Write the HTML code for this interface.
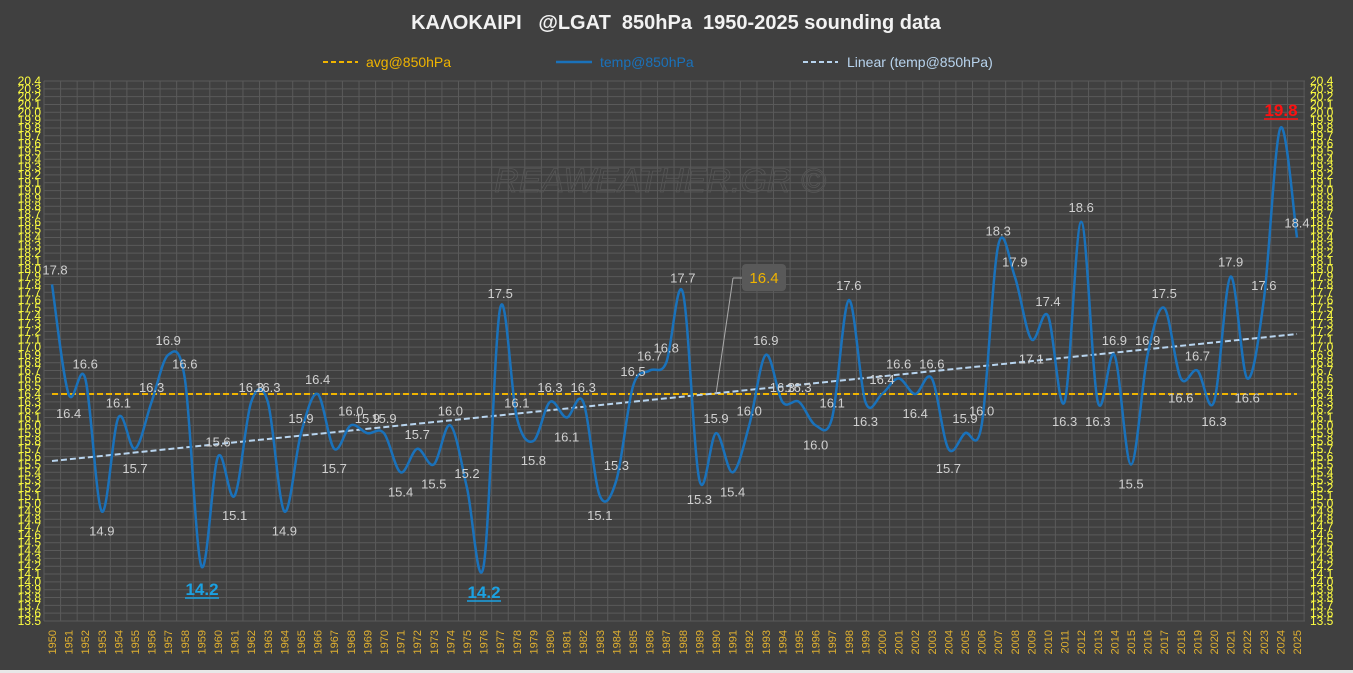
<!DOCTYPE html>
<html><head><meta charset="utf-8"><style>
html,body{margin:0;padding:0;background:#404040;}
svg{display:block;font-family:"Liberation Sans","DejaVu Sans",sans-serif;}
</style></head><body>
<svg id="s" width="1353" height="673" viewBox="0 0 1353 673" xmlns="http://www.w3.org/2000/svg">
<rect width="1353" height="673" fill="#404040"/>
<rect x="0" y="670" width="1353" height="3" fill="#e8e8e8"/>
<g id="grid" stroke="#5a5a5a" stroke-width="1"></g>
<text x="676" y="29" text-anchor="middle" fill="#f2f2f2" font-size="20" font-weight="bold" xml:space="preserve">ΚΑΛΟΚΑΙΡΙ   @LGAT  850hPa  1950-2025 sounding data</text>
<line x1="323" y1="62" x2="358" y2="62" stroke="#f0b400" stroke-width="2" stroke-dasharray="5,3"/>
<text x="366" y="67" fill="#f0b400" font-size="14">avg@850hPa</text>
<line x1="556" y1="62" x2="592" y2="62" stroke="#1a72bb" stroke-width="2.5"/>
<text x="600" y="67" fill="#1a72bb" font-size="14">temp@850hPa</text>
<line x1="803" y1="62" x2="838" y2="62" stroke="#b8d4ee" stroke-width="2" stroke-dasharray="5,3"/>
<text x="847" y="67" fill="#b8d4ee" font-size="14">Linear (temp@850hPa)</text>
<text x="660" y="192" text-anchor="middle" fill="none" stroke="#565656" stroke-width="0.8" font-size="34" font-style="italic">REAWEATHER.GR ©</text>
<line x1="52" y1="394" x2="1297" y2="394" stroke="#f0b400" stroke-width="2" stroke-dasharray="6,3"/>
<line x1="52" y1="461" x2="1297" y2="334" stroke="#b8d4ee" stroke-width="2" stroke-dasharray="6,3"/>
<path id="curve" fill="none" stroke="#1a72bb" stroke-width="2.5"/>
<g id="yl" fill="#ffff40" font-size="12" text-anchor="end">
<text>20.4</text><text>20.3</text><text>20.2</text><text>20.1</text><text>20.0</text><text>19.9</text><text>19.8</text><text>19.7</text><text>19.6</text><text>19.5</text><text>19.4</text><text>19.3</text><text>19.2</text><text>19.1</text><text>19.0</text><text>18.9</text><text>18.8</text><text>18.7</text><text>18.6</text><text>18.5</text><text>18.4</text><text>18.3</text><text>18.2</text><text>18.1</text><text>18.0</text><text>17.9</text><text>17.8</text><text>17.7</text><text>17.6</text><text>17.5</text><text>17.4</text><text>17.3</text><text>17.2</text><text>17.1</text><text>17.0</text><text>16.9</text><text>16.8</text><text>16.7</text><text>16.6</text><text>16.5</text><text>16.4</text><text>16.3</text><text>16.2</text><text>16.1</text><text>16.0</text><text>15.9</text><text>15.8</text><text>15.7</text><text>15.6</text><text>15.5</text><text>15.4</text><text>15.3</text><text>15.2</text><text>15.1</text><text>15.0</text><text>14.9</text><text>14.8</text><text>14.7</text><text>14.6</text><text>14.5</text><text>14.4</text><text>14.3</text><text>14.2</text><text>14.1</text><text>14.0</text><text>13.9</text><text>13.8</text><text>13.7</text><text>13.6</text><text>13.5</text>
</g>
<g id="yr" fill="#ffff40" font-size="12" text-anchor="start">
<text>20.4</text><text>20.3</text><text>20.2</text><text>20.1</text><text>20.0</text><text>19.9</text><text>19.8</text><text>19.7</text><text>19.6</text><text>19.5</text><text>19.4</text><text>19.3</text><text>19.2</text><text>19.1</text><text>19.0</text><text>18.9</text><text>18.8</text><text>18.7</text><text>18.6</text><text>18.5</text><text>18.4</text><text>18.3</text><text>18.2</text><text>18.1</text><text>18.0</text><text>17.9</text><text>17.8</text><text>17.7</text><text>17.6</text><text>17.5</text><text>17.4</text><text>17.3</text><text>17.2</text><text>17.1</text><text>17.0</text><text>16.9</text><text>16.8</text><text>16.7</text><text>16.6</text><text>16.5</text><text>16.4</text><text>16.3</text><text>16.2</text><text>16.1</text><text>16.0</text><text>15.9</text><text>15.8</text><text>15.7</text><text>15.6</text><text>15.5</text><text>15.4</text><text>15.3</text><text>15.2</text><text>15.1</text><text>15.0</text><text>14.9</text><text>14.8</text><text>14.7</text><text>14.6</text><text>14.5</text><text>14.4</text><text>14.3</text><text>14.2</text><text>14.1</text><text>14.0</text><text>13.9</text><text>13.8</text><text>13.7</text><text>13.6</text><text>13.5</text>
</g>
<g id="xl" fill="#e0b030" font-size="11" text-anchor="end">
<text>1950</text><text>1951</text><text>1952</text><text>1953</text><text>1954</text><text>1955</text><text>1956</text><text>1957</text><text>1958</text><text>1959</text><text>1960</text><text>1961</text><text>1962</text><text>1963</text><text>1964</text><text>1965</text><text>1966</text><text>1967</text><text>1968</text><text>1969</text><text>1970</text><text>1971</text><text>1972</text><text>1973</text><text>1974</text><text>1975</text><text>1976</text><text>1977</text><text>1978</text><text>1979</text><text>1980</text><text>1981</text><text>1982</text><text>1983</text><text>1984</text><text>1985</text><text>1986</text><text>1987</text><text>1988</text><text>1989</text><text>1990</text><text>1991</text><text>1992</text><text>1993</text><text>1994</text><text>1995</text><text>1996</text><text>1997</text><text>1998</text><text>1999</text><text>2000</text><text>2001</text><text>2002</text><text>2003</text><text>2004</text><text>2005</text><text>2006</text><text>2007</text><text>2008</text><text>2009</text><text>2010</text><text>2011</text><text>2012</text><text>2013</text><text>2014</text><text>2015</text><text>2016</text><text>2017</text><text>2018</text><text>2019</text><text>2020</text><text>2021</text><text>2022</text><text>2023</text><text>2024</text><text>2025</text>
</g>
<g id="dl" fill="#d0d0d0" font-size="13" text-anchor="middle">
<text>17.8</text><text>16.4</text><text>16.6</text><text>14.9</text><text>16.1</text><text>15.7</text><text>16.3</text><text>16.9</text><text>16.6</text><text></text><text>15.6</text><text>15.1</text><text>16.3</text><text>16.3</text><text>14.9</text><text>15.9</text><text>16.4</text><text>15.7</text><text>16.0</text><text>15.9</text><text>15.9</text><text>15.4</text><text>15.7</text><text>15.5</text><text>16.0</text><text>15.2</text><text></text><text>17.5</text><text>16.1</text><text>15.8</text><text>16.3</text><text>16.1</text><text>16.3</text><text>15.1</text><text>15.3</text><text>16.5</text><text>16.7</text><text>16.8</text><text>17.7</text><text>15.3</text><text>15.9</text><text>15.4</text><text>16.0</text><text>16.9</text><text>16.3</text><text>16.3</text><text>16.0</text><text>16.1</text><text>17.6</text><text>16.3</text><text>16.4</text><text>16.6</text><text>16.4</text><text>16.6</text><text>15.7</text><text>15.9</text><text>16.0</text><text>18.3</text><text>17.9</text><text>17.1</text><text>17.4</text><text>16.3</text><text>18.6</text><text>16.3</text><text>16.9</text><text>15.5</text><text>16.9</text><text>17.5</text><text>16.6</text><text>16.7</text><text>16.3</text><text>17.9</text><text>16.6</text><text>17.6</text><text></text><text>18.4</text>
</g>
<line x1="716" y1="394" x2="733" y2="278" stroke="#aaa" stroke-width="1"/>
<line x1="733" y1="278" x2="742" y2="278" stroke="#aaa" stroke-width="1"/>
<rect x="742" y="264" width="44" height="27" rx="4" fill="#595959"/>
<text x="764" y="283" text-anchor="middle" fill="#f0b400" font-size="15">16.4</text>
<text x="1281" y="116" text-anchor="middle" fill="#ff1010" font-size="17" font-weight="bold">19.8</text>
<line x1="1264" y1="119" x2="1298" y2="119" stroke="#ff1010" stroke-width="1.5"/>
<text x="202" y="595" text-anchor="middle" fill="#1ba1e2" font-size="17" font-weight="bold">14.2</text>
<line x1="185" y1="598" x2="219" y2="598" stroke="#1ba1e2" stroke-width="1.5"/>
<text x="484" y="598" text-anchor="middle" fill="#1ba1e2" font-size="17" font-weight="bold">14.2</text>
<line x1="467" y1="601" x2="501" y2="601" stroke="#1ba1e2" stroke-width="1.5"/>
</svg>
<script>
var X0=52,DX=16.6,Y0=81,K=78.26;
function Y(v){return Y0+(20.4-v)*K;}
var g=document.getElementById('grid'),ns='http://www.w3.org/2000/svg';
function ln(a,b,c,d){var l=document.createElementNS(ns,'line');l.setAttribute('x1',a);l.setAttribute('y1',b);l.setAttribute('x2',c);l.setAttribute('y2',d);g.appendChild(l);}
for(var i=0;i<=69;i++){var y=Y0+i*K/10;ln(44,y,1305,y);}
for(var i=0;i<=76;i++){var x=44+i*16.58;ln(x,Y0,x,Y(13.5));}
var yl=document.getElementById('yl').children,yr=document.getElementById('yr').children;
for(var i=0;i<yl.length;i++){var y=Y0+i*K/10+4;yl[i].setAttribute('x',41);yl[i].setAttribute('y',y);yr[i].setAttribute('x',1310);yr[i].setAttribute('y',y);}
var xl=document.getElementById('xl').children;
for(var i=0;i<xl.length;i++){var x=X0+i*DX+4;xl[i].setAttribute('transform','translate('+x+',630) rotate(-90)');}
var d=[17.8,16.4,16.6,14.9,16.1,15.7,16.3,16.9,16.6,14.2,15.6,15.1,16.3,16.3,14.9,15.9,16.4,15.7,16.0,15.9,15.9,15.4,15.7,15.5,16.0,15.2,14.2,17.5,16.1,15.8,16.3,16.1,16.3,15.1,15.3,16.5,16.7,16.8,17.7,15.3,15.9,15.4,16.0,16.9,16.3,16.3,16.0,16.1,17.6,16.3,16.4,16.6,16.4,16.6,15.7,15.9,16.0,18.3,17.9,17.1,17.4,16.3,18.6,16.3,16.9,15.5,16.9,17.5,16.6,16.7,16.3,17.9,16.6,17.6,19.8,18.4];
var P=d.map(function(v,i){return [X0+i*DX,Y(v)];});
var s='M'+P[0][0]+','+P[0][1];
for(var i=0;i<P.length-1;i++){var p0=P[i-1]||P[i],p1=P[i],p2=P[i+1],p3=P[i+2]||p2,t=0.5/3;
s+=' C'+(p1[0]+(p2[0]-p0[0])*t)+','+(p1[1]+(p2[1]-p0[1])*t)+' '+(p2[0]-(p3[0]-p1[0])*t)+','+(p2[1]-(p3[1]-p1[1])*t)+' '+p2[0]+','+p2[1];}
document.getElementById('curve').setAttribute('d',s);
var dl=document.getElementById('dl').children;
for(var i=0;i<dl.length;i++){var v=d[i],a=d[i-1]===undefined?v:d[i-1],b=d[i+1]===undefined?v:d[i+1];
var dy=(v<a&&v<b)?24:-10;dl[i].setAttribute('x',P[i][0]+(i==0?3:0));dl[i].setAttribute('y',P[i][1]+dy);}
</script>
</body></html>
